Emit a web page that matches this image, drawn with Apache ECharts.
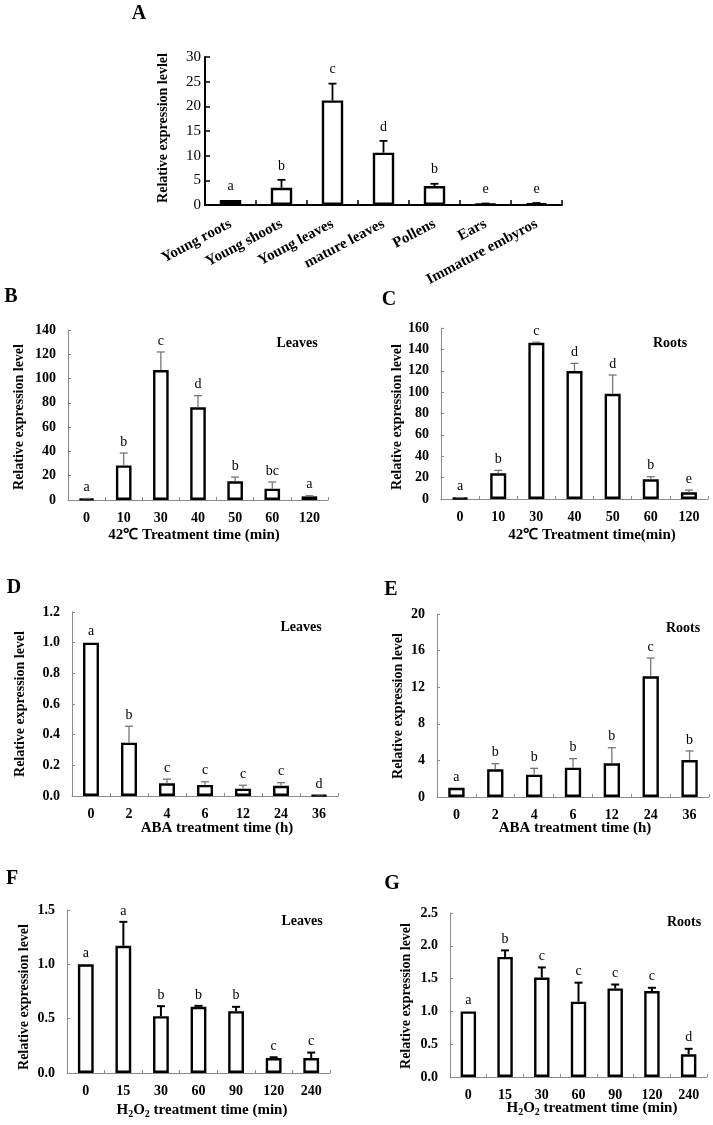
<!DOCTYPE html>
<html><head><meta charset="utf-8">
<script src="https://cdn.jsdelivr.net/npm/echarts@6/dist/echarts.min.js"></script>
<style>html,body{margin:0;padding:0;background:#fff}#c{width:713px;height:1125px}</style>
</head><body><div id="c"></div><script>
// ---------- data ----------
const tissues = ['Young roots','Young shoots','Young leaves','mature leaves','Pollens','Ears','Immature embyros'];
const valsA = [1.0, 3.5, 21.2, 10.6, 3.85, 0.2, 0.3];
const sdA   = [0, 1.6, 3.4, 2.4, 0.45, 0.1, 0.1];
const lettersA = ['a','b','c','d','b','e','e'];

const heatTimes = ['0','10','30','40','50','60','120'];
const valsB = [1.0, 28.5, 107, 76.3, 15.4, 9.3, 3.0];
const sdB   = [0.3, 10.2, 14.9, 9.6, 3.5, 5.5, 0.5];
const lettersB = ['a','b','c','d','b','bc','a'];
const valsC = [1.0, 24, 146.2, 119.7, 98.5, 18.4, 6.2];
const sdC   = [0.3, 2.8, 0.5, 7.2, 17.5, 2.5, 2.2];
const lettersC = ['a','b','c','d','d','b','e'];

const abaTimes = ['0','2','4','6','12','24','36'];
const valsD = [1.0, 0.348, 0.083, 0.072, 0.048, 0.067, 0.005];
const sdD   = [0, 0.107, 0.027, 0.021, 0.022, 0.02, 0.002];
const lettersD = ['a','b','c','c','c','c','d'];
const valsE = [1.0, 3.03, 2.44, 3.2, 3.68, 13.19, 4.04];
const sdE   = [0, 0.61, 0.69, 0.99, 1.71, 2.0, 0.99];
const lettersE = ['a','b','b','b','b','c','b'];

const h2o2Times = ['0','15','30','60','90','120','240'];
const valsF = [1.0, 1.171, 0.523, 0.609, 0.569, 0.138, 0.138];
const sdF   = [0, 0.22, 0.092, 0.009, 0.04, 0.007, 0.05];
const lettersF = ['a','a','b','b','b','c','c'];
const valsG = [1.0, 1.83, 1.515, 1.148, 1.35, 1.31, 0.347];
const sdG   = [0, 0.10, 0.155, 0.29, 0.06, 0.05, 0.083];
const lettersG = ['a','b','c','c','c','c','d'];

const yAxisA = {max: 30, interval: 5, dec: 0};
const yAxisB = {max: 140, interval: 20, dec: 0};
const yAxisC = {max: 160, interval: 20, dec: 0};
const yAxisD = {max: 1.2, interval: 0.2, dec: 1};
const yAxisE = {max: 20, interval: 4, dec: 0};
const yAxisF = {max: 1.5, interval: 0.5, dec: 1};
const yAxisG = {max: 2.5, interval: 0.5, dec: 1};

// ---------- layout ----------
const SERIF = '"Liberation Serif","Times New Roman",serif';
const panels = [
  {cats: tissues, vals: valsA, sd: sdA, letters: lettersA, y: yAxisA, g: {left: 205, top: 57, width: 357, height: 148}, kind: 'A'},
  {cats: heatTimes, vals: valsB, sd: sdB, letters: lettersB, y: yAxisB, g: {left: 68, top: 330, width: 260, height: 170}, kind: 'gray'},
  {cats: heatTimes, vals: valsC, sd: sdC, letters: lettersC, y: yAxisC, g: {left: 441, top: 328, width: 267, height: 171}, kind: 'gray'},
  {cats: abaTimes, vals: valsD, sd: sdD, letters: lettersD, y: yAxisD, g: {left: 72, top: 612, width: 266, height: 184}, kind: 'gray'},
  {cats: abaTimes, vals: valsE, sd: sdE, letters: lettersE, y: yAxisE, g: {left: 437, top: 614, width: 272, height: 183}, kind: 'gray'},
  {cats: h2o2Times, vals: valsF, sd: sdF, letters: lettersF, y: yAxisF, g: {left: 67, top: 910, width: 263, height: 163}, kind: 'black'},
  {cats: h2o2Times, vals: valsG, sd: sdG, letters: lettersG, y: yAxisG, g: {left: 450, top: 913, width: 257, height: 164}, kind: 'black'}
];

const grid = [], xAxis = [], yAxis = [], series = [];
panels.forEach((p, i) => {
  const isA = p.kind === 'A';
  const axColor = isA ? '#000' : '#8a8a8a';
  const axWidth = isA ? 2 : 1;
  const errColor = p.kind === 'gray' ? '#777' : '#000';
  const errWidth = p.kind === 'gray' ? 1.3 : (isA ? 1.8 : 2);
  grid.push(Object.assign({containLabel: false}, p.g));
  xAxis.push({
    type: 'category', gridIndex: i, data: p.cats, boundaryGap: true,
    axisLine: {show: true, lineStyle: {color: axColor, width: axWidth}},
    axisTick: {show: true, inside: true, length: isA ? 5 : 3, lineStyle: {color: axColor, width: isA ? 1.5 : 1}},
    axisLabel: isA
      ? {interval: 0, rotate: 28, margin: 18, fontFamily: SERIF, fontWeight: 'bold', fontSize: 15, color: '#000'}
      : {interval: 0, margin: 11, fontFamily: SERIF, fontWeight: 'bold', fontSize: 14, color: '#000'},
    splitLine: {show: false}
  });
  yAxis.push({
    type: 'value', gridIndex: i, min: 0, max: p.y.max, interval: p.y.interval,
    axisLine: {show: true, lineStyle: {color: axColor, width: axWidth}},
    axisTick: {show: true, inside: true, length: isA ? 5 : 3, lineStyle: {color: axColor, width: isA ? 1.5 : 1}},
    axisLabel: {margin: isA ? 4 : 12, fontFamily: SERIF, fontWeight: isA ? 'normal' : 'bold', fontSize: isA ? 15 : 14, color: '#000',
      formatter: v => v.toFixed(p.y.dec)},
    splitLine: {show: false}
  });
  series.push({
    type: 'bar', xAxisIndex: i, yAxisIndex: i, data: p.vals, barWidth: '42%',
    itemStyle: {color: '#fff', borderColor: '#000', borderWidth: 2.4}, z: 2
  });
  const letters = p.letters;
  series.push({
    type: 'custom', xAxisIndex: i, yAxisIndex: i, z: 5,
    data: p.vals.map((v, j) => [j, v, p.sd[j]]),
    renderItem: (params, api) => {
      const j = api.value(0), v = api.value(1), s = api.value(2);
      const p0 = api.coord([j, v]);
      const p1 = api.coord([j, v + s]);
      const ch = [];
      if (s > 0) {
        ch.push({type: 'line', shape: {x1: p0[0], y1: p0[1], x2: p1[0], y2: p1[1]}, style: {stroke: errColor, lineWidth: errWidth}});
        ch.push({type: 'line', shape: {x1: p1[0] - 4, y1: p1[1], x2: p1[0] + 4, y2: p1[1]}, style: {stroke: errColor, lineWidth: errWidth}});
      }
      ch.push({type: 'text', x: p1[0], y: p1[1] - (isA ? 14 : 11),
        style: {text: letters[params.dataIndex], font: '14px ' + SERIF, fill: '#000', textAlign: 'center', textVerticalAlign: 'middle'}});
      return {type: 'group', children: ch};
    }
  });
});

function txt(x, y, text, size) {
  return {type: 'text', x: x, y: y, style: {text: text, font: 'bold ' + size + 'px ' + SERIF, fill: '#000', textAlign: 'center', textVerticalAlign: 'middle'}};
}
function vtxt(x, y, text) {
  return {type: 'text', x: x, y: y, rotation: Math.PI / 2,
    style: {text: text, font: 'bold 14px ' + SERIF, fill: '#000', textAlign: 'center', textVerticalAlign: 'middle'}};
}
function h2o2(x, y) {
  return {type: 'text', x: x, y: y, style: {
    text: '{n|H}{s|2}{n|O}{s|2}{n| treatment time (min)}',
    textAlign: 'center', textVerticalAlign: 'middle',
    rich: {
      n: {font: 'bold 15px ' + SERIF, fill: '#000', lineHeight: 19, verticalAlign: 'middle'},
      s: {font: 'bold 10px ' + SERIF, fill: '#000', lineHeight: 10, verticalAlign: 'bottom'}
    }}};
}

const graphic = [
  txt(139, 14, 'A', 20), txt(11, 297, 'B', 20), txt(389, 300, 'C', 20),
  txt(14, 588, 'D', 20), txt(391, 590, 'E', 20), txt(12, 879, 'F', 20), txt(392, 884, 'G', 20),
  txt(297, 343, 'Leaves', 14), txt(670, 343, 'Roots', 14),
  txt(301, 627, 'Leaves', 14), txt(683, 628, 'Roots', 14),
  txt(302, 921, 'Leaves', 14), txt(684, 922, 'Roots', 14),
  txt(194, 535, '42\u2103 Treatment time (min)', 15), txt(592, 535, '42\u2103 Treatment time(min)', 15),
  txt(217, 828, 'ABA treatment time (h)', 15), txt(575, 828, 'ABA treatment time (h)', 15),
  h2o2(202, 1110), h2o2(592, 1108),
  vtxt(163, 128, 'Relative expression levlel'),
  vtxt(19, 417, 'Relative expression level'), vtxt(397, 417, 'Relative expression level'),
  vtxt(20, 704, 'Relative expression level'), vtxt(398, 706, 'Relative expression level'),
  vtxt(24, 997, 'Relative expression level'), vtxt(406, 996, 'Relative expression level')
];

const chart = echarts.init(document.getElementById('c'), null, {renderer: 'canvas'});
chart.setOption({animation: false, backgroundColor: '#fff', grid, xAxis, yAxis, series, graphic});
</script></body></html>
